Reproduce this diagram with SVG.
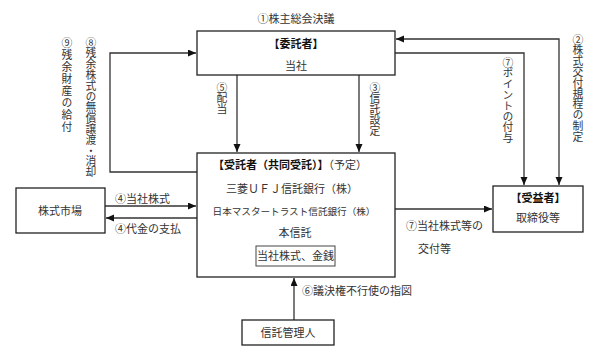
<svg xmlns="http://www.w3.org/2000/svg" width="590" height="354" viewBox="0 0 590 354">
<defs>
<marker id="ah" markerUnits="userSpaceOnUse" markerWidth="9" markerHeight="8" refX="8" refY="3.5" orient="auto-start-reverse">
<path d="M0,0 L8,3.5 L0,7 z" fill="#111"/>
</marker>
<style>
.box{fill:#fff;stroke:#222;stroke-width:1.3}
.c{fill:none;stroke:#333;stroke-width:1.3}
text{font-family:"Noto Sans CJK JP","Noto Sans CJK SC",sans-serif;font-size:11px;fill:#333}
.m{text-anchor:middle}
.b{font-weight:bold;fill:#111}
.v{writing-mode:vertical-rl;text-orientation:upright;font-size:10.8px}
</style>
</defs>
<rect width="590" height="354" fill="#fff"/>
<g id="connectors">
<path class="c" d="M237,75 V152" marker-end="url(#ah)"/>
<path class="c" d="M359,75 V152" marker-end="url(#ah)"/>
<path class="c" d="M197,172 H110 V53 H196" marker-end="url(#ah)"/>
<path class="c" d="M396,39 H559 V185" marker-start="url(#ah)" marker-end="url(#ah)"/>
<path class="c" d="M395,53 H524 V185" marker-end="url(#ah)"/>
<path class="c" d="M105,206 H196" marker-end="url(#ah)"/>
<path class="c" d="M197,218 H106" marker-end="url(#ah)"/>
<path class="c" d="M395,209 H492" marker-end="url(#ah)"/>
<path class="c" d="M294,320 V278" marker-end="url(#ah)"/>
</g>
<g id="labels">
<text class="m" x="296" y="23">①株主総会決議</text>
<text class="v" x="222" y="82">⑤配当</text>
<text class="v" x="375" y="82">③信託設定</text>
<text class="v" x="91" y="37">⑧残余株式の無償譲渡・消却</text>
<text class="v" x="67" y="37" style="letter-spacing:1.2px">⑨残余財産の給付</text>
<text class="v" x="508" y="57">⑦ポイントの付与</text>
<text class="v" x="578" y="34">②株式交付規程の制定</text>
<text x="115" y="203">④当社株式</text>
<text x="115" y="233">④代金の支払</text>
<text x="406" y="230">⑦当社株式等の</text>
<text x="418" y="253">交付等</text>
<text x="302" y="295">⑥議決権不行使の指図</text>
</g>
<g id="itakusha">
<rect class="box" x="197" y="31" width="198" height="44"/>
<text class="m b" x="296" y="48">【委託者】</text>
<text class="m" x="296" y="70">当社</text>
</g>
<g id="jutakusha">
<rect class="box" x="197" y="153" width="198" height="124"/>
<text class="m" x="290" y="169"><tspan class="b">【受託者（共同受託）】</tspan>（予定）</text>
<text class="m" x="292" y="193">三菱ＵＦＪ信託銀行（株）</text>
<text class="m" x="294" y="215" style="font-size:9.6px">日本マスタートラスト信託銀行（株）</text>
<text class="m" x="295" y="237">本信託</text>
<rect x="256" y="246" width="79" height="20" fill="#fff" stroke="#444" stroke-width="1"/>
<text class="m" x="295.5" y="260">当社株式、金銭</text>
</g>
<g id="market">
<rect class="box" x="16" y="188" width="89" height="45"/>
<text class="m" x="60" y="215">株式市場</text>
</g>
<g id="jueki">
<rect class="box" x="493" y="186" width="90" height="46"/>
<text class="m b" x="538" y="202">【受益者】</text>
<text class="m" x="538" y="222">取締役等</text>
</g>
<g id="kanri">
<rect class="box" x="242" y="320" width="92" height="25"/>
<text class="m" x="288" y="337">信託管理人</text>
</g>
</svg>
